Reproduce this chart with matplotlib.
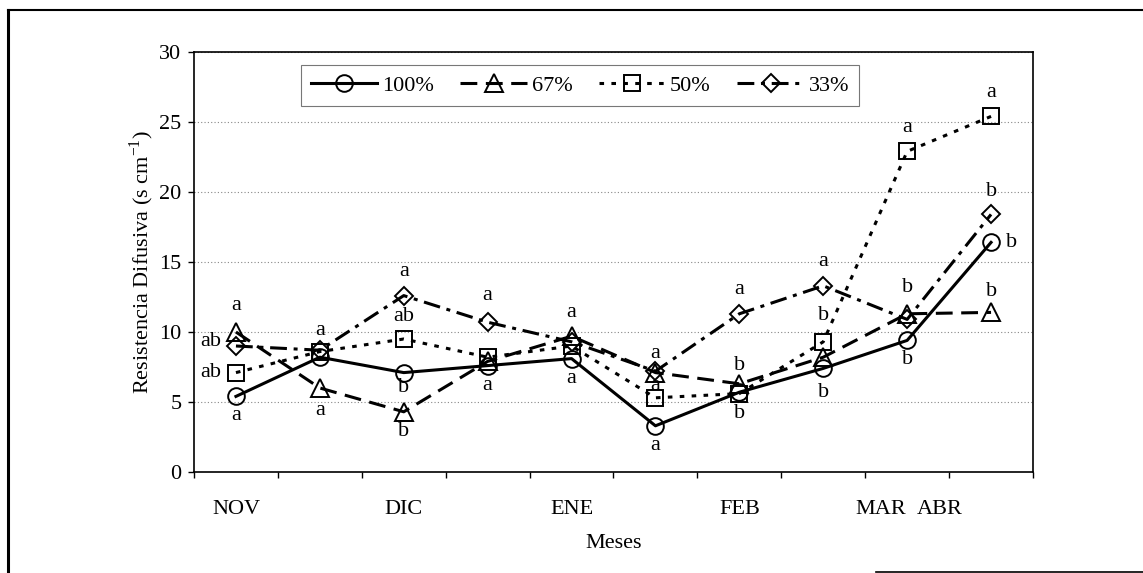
import matplotlib
matplotlib.use("Agg")
import matplotlib.pyplot as plt
from matplotlib.lines import Line2D

plt.rcParams["font.family"] = ["Liberation Serif", "DejaVu Serif"]
plt.rcParams["font.size"] = 16

# --- data -------------------------------------------------------------
points = list(range(10))  # sampling dates (category slots)
month_labels = ["NOV", "DIC", "ENE", "FEB", "MAR", "ABR"]
month_pos = [0.0, 2.0, 4.0, 6.0, 7.68, 8.39]

r100 = [5.4, 8.2, 7.1, 7.6, 8.1, 3.3, 5.7, 7.4, 9.4, 16.4]
r67 = [10.0, 6.0, 4.3, 7.9, 9.7, 7.1, 6.3, 8.2, 11.3, 11.4]
r50 = [7.1, 8.6, 9.5, 8.2, 9.0, 5.3, 5.6, 9.3, 22.9, 25.4]
r33 = [9.0, 8.7, 12.6, 10.7, 9.3, 7.2, 11.3, 13.3, 10.9, 18.4]

# significance letters (x slot, y value, letter)
sig_x = [0, -0.3, -0.3, 0, 1, 1, 2, 2, 2, 2, 3, 3, 4, 4, 5, 5, 5,
         6, 6, 6, 7, 7, 7, 8, 8, 8, 9, 9, 9.24, 9]
sig_y = [11.9, 9.3, 7.1, 4.0, 10.1, 4.4, 14.3, 11.1, 6.0, 2.9, 12.6, 6.2,
         11.4, 6.7, 8.5, 6.2, 1.9, 13.0, 7.6, 4.2, 15.0, 11.2, 5.7,
         24.6, 13.2, 8.0, 27.1, 20.0, 16.4, 12.9]
sig_txt = ["a", "ab", "ab", "a", "a", "a", "a", "ab", "b", "b", "a", "a",
           "a", "a", "a", "a", "a", "a", "b", "b", "a", "b", "b",
           "a", "b", "b", "a", "b", "b", "b"]

series = [
    ("100%", r100, "o", "-", 12),
    ("67%", r67, "^", (0, (5.5, 2.8)), 13),
    ("50%", r50, "s", (0, (1.5, 2.4)), 12),
    ("33%", r33, "D", (0, (5.5, 2.2, 1.3, 2.2)), 9.5),
]

fig = plt.figure(figsize=(11.43, 5.73), dpi=100)
ax = fig.add_axes([194 / 1143, 101 / 573, 839 / 1143, 420 / 573])

for name, vals, mk, ls, ms in series:
    ax.plot(points, vals, color="black", lw=2.2, linestyle=ls,
            marker=mk, markersize=ms, markerfacecolor="none",
            markeredgecolor="black", markeredgewidth=1.4, label=name)

for x, y, t in zip(sig_x, sig_y, sig_txt):
    ax.text(x, y, t, ha="center", va="center", fontsize=16)

ax.set_xlim(-0.5, 9.5)
ax.set_ylim(0, 30)
ax.set_yticks(range(0, 31, 5))
ax.yaxis.grid(True, linestyle=(0, (1, 2)), color="#888888", lw=0.8)
ax.set_axisbelow(True)
ax.tick_params(axis="y", direction="out", length=4, width=1, pad=5, labelsize=16)

ax.set_xticks(month_pos, month_labels)
ax.set_xticks([i - 0.5 for i in range(11)], minor=True)
ax.tick_params(axis="x", which="major", length=0, pad=20, labelsize=16)
ax.tick_params(axis="x", which="minor", direction="out", length=4, width=1)

for sp in ax.spines.values():
    sp.set_linewidth(1.2)

ax.set_xlabel("Meses", fontsize=16, labelpad=11)
ax.set_ylabel("Resistencia Difusiva (s cm$^{\\mathregular{-1}}$)", fontsize=16, labelpad=2)

leg = ax.legend(loc="upper center", bbox_to_anchor=(0.46, 0.995), ncol=4,
                frameon=True, fancybox=False, edgecolor="#555555",
                handlelength=3.0, columnspacing=1.2, handletextpad=0.2,
                borderpad=0.45, fontsize=16)
leg.get_frame().set_linewidth(0.8)

# outer frame of the scanned figure
fig.add_artist(Line2D([8 / 1143, 1.0], [1 - 10 / 573, 1 - 10 / 573], color="black", lw=1.5))
fig.add_artist(Line2D([8 / 1143, 8 / 1143], [0.0, 1 - 10 / 573], color="black", lw=2.2))
fig.add_artist(Line2D([876 / 1143, 1.0], [1 / 573, 1 / 573], color="black", lw=1.2))

fig.savefig("out.png", dpi=100)
